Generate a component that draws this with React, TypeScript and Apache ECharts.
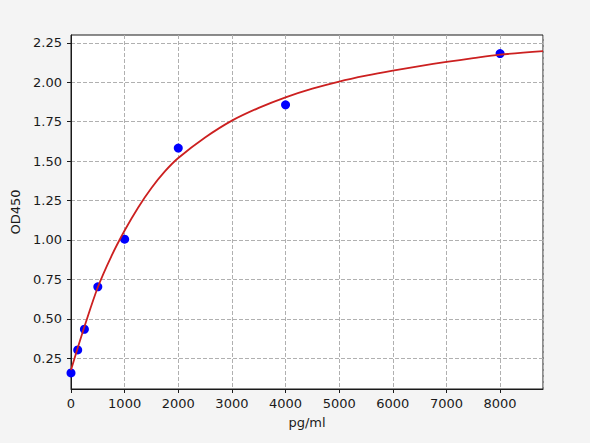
import { useEffect, useRef } from 'react';
import * as echarts from 'echarts';

// measured standards (pg/ml -> OD450)
const concentrations = [0, 125, 250, 500, 1000, 2000, 4000, 8000];
const odValues = [0.157, 0.303, 0.434, 0.703, 1.005, 1.583, 1.857, 2.182];

// fitted curve
const curveX = [0, 125, 250, 500, 750, 1000, 1250, 1500, 1750, 2000, 2500, 3000, 3500, 4000, 4500, 5000, 5500, 6000, 6500, 7000, 7500, 8000, 8800];
const curveY = [0.175, 0.315, 0.45, 0.7, 0.895, 1.06, 1.205, 1.33, 1.435, 1.52, 1.65, 1.757, 1.838, 1.905, 1.96, 2.005, 2.042, 2.074, 2.103, 2.129, 2.153, 2.175, 2.198];

const yTicks = [0.25, 0.5, 0.75, 1.0, 1.25, 1.5, 1.75, 2.0, 2.25];

const FONT = 'DejaVu Sans';

export default function App() {
  const chartRef = useRef<HTMLDivElement>(null);

  useEffect(() => {
    if (!chartRef.current) {
      return;
    }
    const chart = echarts.init(chartRef.current, null, { renderer: 'svg' });

    const option: echarts.EChartsOption = {
      animation: false,
      backgroundColor: '#f4f4f4',
      textStyle: { fontFamily: FONT },
      grid: {
        left: 71,
        right: 47,
        top: 35,
        bottom: 54,
        show: true,
        backgroundColor: '#ffffff',
        borderColor: '#1a1a1a',
        borderWidth: 1,
      },
      xAxis: {
        type: 'value',
        min: 0,
        max: 8800,
        interval: 1000,
        name: 'pg/ml',
        nameLocation: 'middle',
        nameGap: 27,
        nameTextStyle: { fontFamily: FONT, fontSize: 13, color: '#1a1a1a' },
        axisLine: { show: true, onZero: false, lineStyle: { color: '#1a1a1a', width: 1 } },
        axisTick: { show: true, length: 4, lineStyle: { color: '#1a1a1a' } },
        axisLabel: {
          showMaxLabel: false,
          margin: 8,
          fontFamily: FONT,
          fontSize: 13,
          color: '#1a1a1a',
          formatter: (v: number) => String(v),
        },
        splitLine: { show: true, lineStyle: { color: '#b0b0b0', type: [4, 2], width: 1 } },
      },
      yAxis: {
        type: 'value',
        min: 0.055,
        max: 2.3,
        name: 'OD450',
        nameLocation: 'middle',
        nameGap: 37,
        nameTextStyle: { fontFamily: FONT, fontSize: 13, color: '#1a1a1a' },
        axisLine: { show: true, onZero: false, lineStyle: { color: '#1a1a1a', width: 1 } },
        axisTick: { show: true, length: 4, customValues: yTicks, lineStyle: { color: '#1a1a1a' } },
        axisLabel: {
          margin: 9,
          customValues: yTicks,
          fontFamily: FONT,
          fontSize: 13,
          color: '#1a1a1a',
          formatter: (v: number) => v.toFixed(2),
        },
        splitLine: { show: true, lineStyle: { color: '#b0b0b0', type: [4, 2], width: 1 } },
      },
      series: [
        {
          type: 'scatter',
          data: concentrations.map((c, i) => [c, odValues[i]]),
          symbolSize: 9,
          itemStyle: { color: '#0000ff', opacity: 1 },
          z: 2,
        },
        {
          type: 'line',
          data: curveX.map((c, i) => [c, curveY[i]]),
          smooth: 0.3,
          showSymbol: false,
          lineStyle: { color: '#cc2020', width: 1.8 },
          z: 3,
        },
      ],
    };

    chart.setOption(option);

    return () => {
      chart.dispose();
    };
  }, []);

  return (
    <div
      ref={chartRef}
      style={{ position: 'fixed', left: 0, top: 0, width: '590px', height: '443px' }}
    />
  );
}
